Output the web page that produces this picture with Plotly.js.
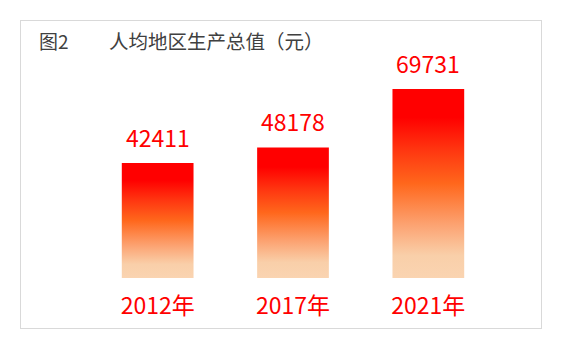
<!DOCTYPE html>
<html>
<head>
<meta charset="utf-8">
<script src="https://cdn.plot.ly/plotly-3.0.1.min.js"></script>
<style>
  html, body { margin:0; padding:0; background:#fff; }
  #wrap { position:relative; width:570px; height:354px; }
  #chart { width:570px; height:354px; }
  #frame { position:absolute; left:20px; top:20px; width:520px; height:307px; border:1px solid #D9D9D9; pointer-events:none; }
</style>
</head>
<body>
<div id="wrap">
  <div id="chart"></div>
  <div id="frame"></div>
</div>
<script>
// ---- data ----
var years = ["2012年", "2017年", "2021年"];
var values = [42411, 48178, 69731];
var figureLabel = "图2";
var chartTitle = "人均地区生产总值（元）";

var cjk = '"Noto Sans CJK SC", "Noto Sans", sans-serif';

var data = [{
  type: 'bar',
  x: years,
  y: values,
  marker: { color: '#FF0000', line: { width: 0 } },
  hoverinfo: 'none'
}];

var annotations = values.map(function (v, i) {
  return {
    x: years[i], y: v, xref: 'x', yref: 'y',
    text: String(v), showarrow: false,
    xanchor: 'center', yanchor: 'bottom', yshift: 7,
    font: { family: cjk, size: 23, color: '#FF0000' }
  };
});
annotations.push({
  xref: 'paper', yref: 'paper', x: -0.131, y: 1.04,
  xanchor: 'left', yanchor: 'middle', showarrow: false,
  text: figureLabel, font: { family: cjk, size: 19, color: '#404040' }
});
annotations.push({
  xref: 'paper', yref: 'paper', x: 0.042, y: 1.04,
  xanchor: 'left', yanchor: 'middle', showarrow: false,
  text: chartTitle, font: { family: cjk, size: 19.5, color: '#404040' }
});

var layout = {
  width: 570, height: 354,
  margin: { l: 90, r: 74, t: 50, b: 76, pad: 0 },
  paper_bgcolor: 'rgba(0,0,0,0)',
  plot_bgcolor: 'rgba(0,0,0,0)',
  showlegend: false,
  bargap: 0.47,
  xaxis: {
    type: 'category',
    showline: false, showgrid: false, zeroline: false, ticks: '',
    tickfont: { family: cjk, size: 23, color: '#FF0000' },
    ticklabelstandoff: 12
  },
  yaxis: {
    visible: false, range: [0, 84120], fixedrange: true
  },
  annotations: annotations
};

var gd = document.getElementById('chart');
Plotly.newPlot(gd, data, layout, { staticPlot: true, displayModeBar: false }).then(function () {
  var svgNS = 'http://www.w3.org/2000/svg';
  var defs = gd.querySelector('svg.main-svg defs');
  var grad = document.createElementNS(svgNS, 'linearGradient');
  grad.setAttribute('id', 'barGrad');
  grad.setAttribute('x1', '0'); grad.setAttribute('y1', '0');
  grad.setAttribute('x2', '0'); grad.setAttribute('y2', '1');
  var stops = [[0, '#FF0000'], [0.15, '#FF0000'], [0.32, '#FF3510'], [0.5, '#FF671C'], [0.72, '#FCA372'], [0.88, '#F9CFA9'], [1, '#FAD4B1']];
  stops.forEach(function (s) {
    var st = document.createElementNS(svgNS, 'stop');
    st.setAttribute('offset', s[0]);
    st.setAttribute('stop-color', s[1]);
    grad.appendChild(st);
  });
  defs.appendChild(grad);
  gd.querySelectorAll('.trace.bars .point path').forEach(function (p) {
    p.style.fill = 'url(#barGrad)';
  });
});
</script>
</body>
</html>
